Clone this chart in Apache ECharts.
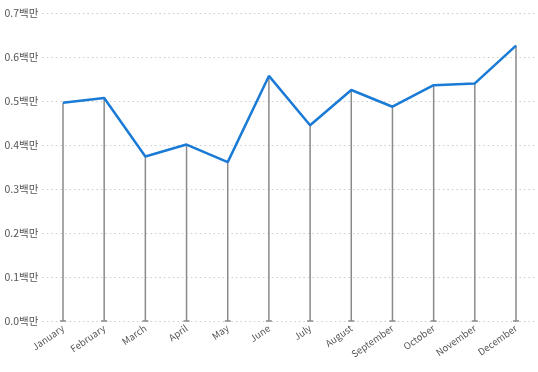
<!DOCTYPE html>
<html>
<head>
<meta charset="utf-8">
<script src="https://cdn.jsdelivr.net/npm/echarts@6/dist/echarts.min.js"></script>
<style>html,body{margin:0;padding:0;background:#fff;}#c{width:538px;height:372px;}</style>
</head>
<body>
<div id="c"></div>
<script>
const categories = ['January','February','March','April','May','June','July','August','September','October','November','December'];
const values = [0.496, 0.507, 0.374, 0.401, 0.361, 0.557, 0.445, 0.525, 0.487, 0.536, 0.540, 0.626];
const yTicks = [0, 0.1, 0.2, 0.3, 0.4, 0.5, 0.6, 0.7];

const chart = echarts.init(document.getElementById('c'), null, {renderer: 'canvas'});
const font = "'Segoe UI', 'Noto Sans CJK KR', 'Noto Sans', sans-serif";
chart.setOption({
  animation: false,
  grid: {left: 42.4, right: 1.4, top: 13, bottom: 51, containLabel: false},
  xAxis: {
    type: 'category',
    data: categories,
    boundaryGap: true,
    axisLine: {show: false},
    axisTick: {show: false},
    axisLabel: {rotate: 35, fontSize: 9.5, color: '#555', fontFamily: font, margin: 6, interval: 0}
  },
  yAxis: {
    type: 'value',
    min: yTicks[0],
    max: yTicks[yTicks.length - 1],
    interval: 0.1,
    axisLine: {show: false},
    axisTick: {show: false},
    axisLabel: {fontSize: 10.5, color: '#555', fontFamily: font, margin: 4,
      formatter: v => v.toFixed(1) + '백만'},
    splitLine: {lineStyle: {color: '#ccc', type: [1.5, 3], width: 1}}
  },
  series: [
    {
      type: 'custom',
      data: values.map((v, i) => [i, v]),
      renderItem: function (params, api) {
        const top = api.coord([api.value(0), api.value(1)]);
        const bot = api.coord([api.value(0), 0]);
        return {
          type: 'group',
          children: [
            {type: 'line', shape: {x1: top[0], y1: top[1], x2: bot[0], y2: bot[1]},
             style: {stroke: '#8a8a8a', lineWidth: 1.5}},
            {type: 'line', shape: {x1: bot[0] - 3, y1: bot[1], x2: bot[0] + 3, y2: bot[1]},
             style: {stroke: '#8a8a8a', lineWidth: 1.5}}
          ]
        };
      },
      z: 2
    },
    {
      type: 'line',
      data: values,
      showSymbol: false,
      lineStyle: {color: '#1a7bd6', width: 2.5},
      itemStyle: {color: '#1a7bd6'},
      z: 3
    }
  ]
});
</script>
</body>
</html>
